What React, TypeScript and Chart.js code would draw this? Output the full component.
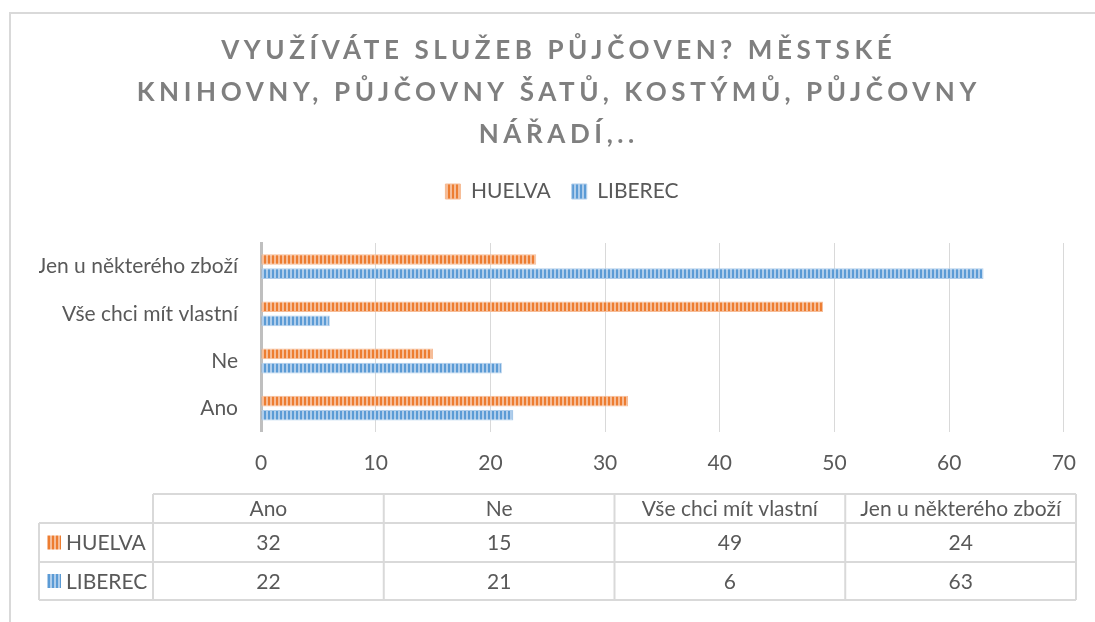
import React, { useEffect, useRef } from 'react';
import { Chart, registerables, layouts } from 'chart.js';

Chart.register(...registerables);

const categories = ['Ano', 'Ne', 'Vše chci mít vlastní', 'Jen u některého zboží'];
const seriesNames = ['HUELVA', 'LIBEREC'];
const huelvaValues = [32, 15, 49, 24];
const liberecValues = [22, 21, 6, 63];
const xMin = 0;
const xMax = 70;
const xStep = 10;
const titleLines = [
  'VYUŽÍVÁTE SLUŽEB PŮJČOVEN? MĚSTSKÉ',
  'KNIHOVNY, PŮJČOVNY ŠATŮ, KOSTÝMŮ, PŮJČOVNY',
  'NÁŘADÍ,..',
];

const FONT = 'Lato, "Open Sans", sans-serif';
const FS = 21;
const TEXT = '#595959';
const GRID = '#d9d9d9';
const ORANGE = '#ED7D31';
const ORANGE_L = '#F6BD98';
const BLUE = '#5B9BD5';
const BLUE_L = '#AFCDEB';

function makePattern(dark: string, light: string): CanvasPattern | string {
  const c = document.createElement('canvas');
  c.width = 4;
  c.height = 4;
  const x = c.getContext('2d');
  if (!x) return dark;
  x.fillStyle = light;
  x.fillRect(0, 0, 4, 4);
  x.fillStyle = dark;
  x.fillRect(0, 0, 2, 4);
  return x.createPattern(c, 'repeat') || dark;
}

const spacerPlugin = {
  id: 'spacers',
  beforeInit(chart: any) {
    const mk = (position: string, size: number, weight: number, fullSize: boolean) => ({
      position,
      weight,
      fullSize,
      options: { position, weight, fullSize, stackWeight: 1 },
      left: 0, top: 0, right: 0, bottom: 0, width: 0, height: 0,
      isHorizontal() { return position === 'top' || position === 'bottom'; },
      update(maxWidth: number, maxHeight: number) {
        if (this.isHorizontal()) { this.width = maxWidth; this.height = size; }
        else { this.width = size; this.height = maxHeight; }
      },
      getPadding() { return { left: 0, right: 0, top: 0, bottom: 0 }; },
      draw() {},
    });
    layouts.addBox(chart, mk('top', 31, 100, true) as any);
    layouts.addBox(chart, mk('right', 20, 100, false) as any);
  },
};

const decorPlugin = {
  id: 'decor',
  afterDraw(chart: any) {
    const ctx: CanvasRenderingContext2D = chart.ctx;
    ctx.save();
    // outer frame
    ctx.strokeStyle = GRID;
    ctx.lineWidth = 2;
    ctx.beginPath();
    ctx.moveTo(10, 622);
    ctx.lineTo(10, 13);
    ctx.lineTo(1095, 13);
    ctx.stroke();

    // title
    ctx.fillStyle = '#7f7f7f';
    ctx.font = `bold 26px ${FONT}`;
    ctx.textAlign = 'center';
    ctx.textBaseline = 'middle';
    const sp = 4.6;
    (ctx as any).letterSpacing = sp + 'px';
    titleLines.forEach((l, i) => ctx.fillText(l, 556.5 + sp / 2, 51 + i * 42));
    (ctx as any).letterSpacing = '0px';

    // data table
    const colX0 = 153;
    const colW = (1076 - 153) / categories.length;
    const left = 39;
    const right = 1076;
    const yTop = 494, yH = 523, yR1 = 562, yR2 = 600;
    ctx.strokeStyle = GRID;
    ctx.lineWidth = 2;
    ctx.beginPath();
    ctx.moveTo(colX0, yTop); ctx.lineTo(right, yTop);
    [yH, yR1, yR2].forEach((y) => { ctx.moveTo(left, y); ctx.lineTo(right, y); });
    ctx.moveTo(left, yH); ctx.lineTo(left, yR2);
    for (let i = 0; i <= categories.length; i++) {
      const x = colX0 + i * colW;
      ctx.moveTo(x, yTop); ctx.lineTo(x, yR2);
    }
    ctx.stroke();

    ctx.font = `${FS}px ${FONT}`;
    ctx.fillStyle = TEXT;
    ctx.textAlign = 'center';
    ctx.textBaseline = 'middle';
    categories.forEach((c, i) => ctx.fillText(c, colX0 + colW * (i + 0.5), (yTop + yH) / 2 + 1));
    const rows = [huelvaValues, liberecValues];
    const rowMid = [(yH + yR1) / 2, (yR1 + yR2) / 2];
    const ds = chart.data.datasets;
    rows.forEach((vals, r) => {
      vals.forEach((v, i) => ctx.fillText(String(v), colX0 + colW * (i + 0.5), rowMid[r] + 1));
    });
    rows.forEach((_, r) => {
      ctx.fillStyle = ds[r].backgroundColor;
      ctx.fillRect(47, rowMid[r] - 7, 14, 14);
      ctx.fillStyle = TEXT;
      ctx.textAlign = 'left';
      ctx.fillText(seriesNames[r], 66, rowMid[r] + 1);
    });
    ctx.restore();
  },
};

export default function App() {
  const ref = useRef<HTMLCanvasElement | null>(null);
  useEffect(() => {
    const canvas = ref.current;
    if (!canvas) return;
    const pO = makePattern(ORANGE, ORANGE_L);
    const pB = makePattern(BLUE, BLUE_L);
    const chart = new Chart(canvas, {
      type: 'bar',
      data: {
        labels: categories,
        datasets: [
          { label: seriesNames[0], data: huelvaValues, backgroundColor: pO as any, borderColor: ORANGE_L, borderWidth: 1, categoryPercentage: 0.6, barPercentage: 0.75 },
          { label: seriesNames[1], data: liberecValues, backgroundColor: pB as any, borderColor: BLUE_L, borderWidth: 1, categoryPercentage: 0.6, barPercentage: 0.75 },
        ],
      },
      options: {
        indexAxis: 'y',
        responsive: false,
        animation: false,
        layout: { padding: { top: 160, left: 39, right: 10, bottom: 127 } },
        plugins: {
          title: { display: false },
          tooltip: { enabled: false },
          legend: {
            display: true,
            position: 'top',
            labels: {
              boxWidth: 15,
              boxHeight: 15,
              padding: 21,
              color: TEXT,
              font: { family: FONT, size: FS },
            },
          },
        },
        scales: {
          x: {
            min: xMin,
            max: xMax,
            ticks: { stepSize: xStep, color: TEXT, font: { family: FONT, size: FS }, padding: 19 },
            grid: { color: GRID, lineWidth: 1, drawTicks: false },
            border: { display: false },
          },
          y: {
            reverse: true,
            afterFit: (s: any) => { s.width = 222; },
            ticks: { color: TEXT, font: { family: FONT, size: FS }, padding: 23 },
            grid: { display: false, drawTicks: false },
            border: { display: true, color: '#bfbfbf', width: 3 },
          },
        },
      },
      plugins: [spacerPlugin, decorPlugin],
    });
    return () => chart.destroy();
  }, []);
  return (
    <div style={{ position: 'fixed', left: 0, top: 0, width: 1095, height: 622, background: '#fff' }}>
      <canvas ref={ref} width={1095} height={622} style={{ display: 'block' }} />
    </div>
  );
}
